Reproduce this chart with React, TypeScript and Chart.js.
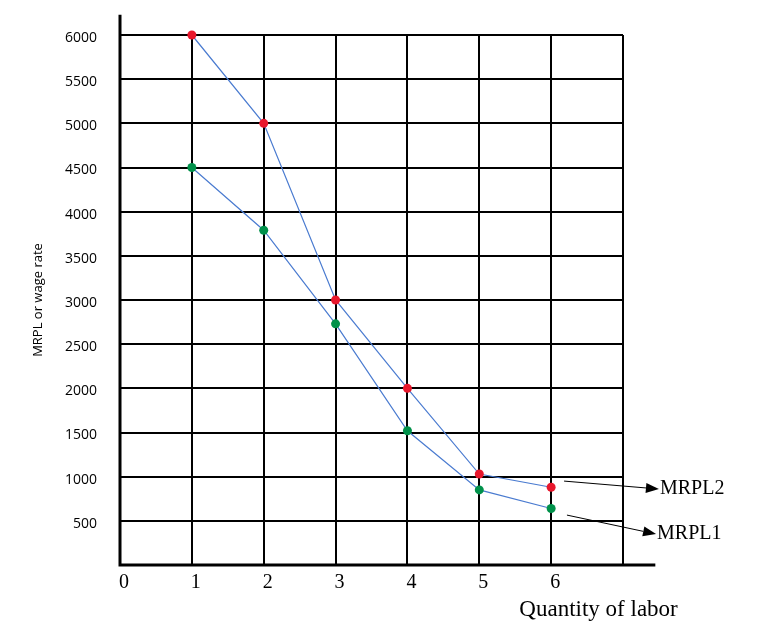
import React, { useEffect, useRef } from 'react';
import { Chart, registerables } from 'chart.js';

Chart.register(...registerables);

// ---- data ----
const quantities = [1, 2, 3, 4, 5, 6];
const mrpl2Values = [6000, 5000, 3000, 2000, 1030, 880];
const mrpl1Values = [4500, 3790, 2730, 1520, 850, 640];
const xTickLabels = ['0', '1', '2', '3', '4', '5', '6', ''];
const yTickStep = 500;
const seriesNames = ['MRPL2', 'MRPL1'];
const xTitle = 'Quantity of labor';
const yTitle = 'MRPL or wage rate';

// annotation anchors in data units (start of arrow, arrow tip)
const arrowStarts = [
  [6.18, 950],
  [6.22, 565],
];
const arrowTips = [
  [7.5, 860],
  [7.46, 350],
];

const SERIF = '"Liberation Serif", "Times New Roman", serif';
const SANS = '"Open Sans", "Liberation Sans", sans-serif';

const decorPlugin = {
  id: 'decor',
  afterDraw(chart: any) {
    const { ctx, chartArea, scales } = chart;
    const xs = scales.x;
    const ys = scales.y;
    ctx.save();
    // thick axes
    ctx.strokeStyle = '#000';
    ctx.lineWidth = 3;
    ctx.beginPath();
    ctx.moveTo(chartArea.left, ys.getPixelForValue(6230));
    ctx.lineTo(chartArea.left, chartArea.bottom);
    ctx.lineTo(xs.getPixelForValue(7.45), chartArea.bottom);
    ctx.stroke();

    // arrows + labels
    ctx.lineWidth = 1;
    ctx.fillStyle = '#000';
    seriesNames.forEach((name, i) => {
      const x1 = xs.getPixelForValue(arrowStarts[i][0]);
      const y1 = ys.getPixelForValue(arrowStarts[i][1]);
      const x2 = xs.getPixelForValue(arrowTips[i][0]);
      const y2 = ys.getPixelForValue(arrowTips[i][1]);
      const ang = Math.atan2(y2 - y1, x2 - x1);
      const hl = 13;
      const hw = 5;
      const bx = x2 - hl * Math.cos(ang);
      const by = y2 - hl * Math.sin(ang);
      ctx.beginPath();
      ctx.moveTo(x1, y1);
      ctx.lineTo(bx, by);
      ctx.stroke();
      ctx.beginPath();
      ctx.moveTo(x2, y2);
      ctx.lineTo(bx + hw * Math.sin(ang), by - hw * Math.cos(ang));
      ctx.lineTo(bx - hw * Math.sin(ang), by + hw * Math.cos(ang));
      ctx.closePath();
      ctx.fill();
      ctx.font = `20px ${SERIF}`;
      ctx.textAlign = 'left';
      ctx.textBaseline = 'middle';
      ctx.fillText(name, x2 + 1, y2 + 0);
    });

    // x title
    ctx.font = `23px ${SERIF}`;
    ctx.textAlign = 'center';
    ctx.textBaseline = 'middle';
    ctx.fillText(xTitle, xs.getPixelForValue(6.66), chartArea.bottom + 45);
    ctx.restore();
  },
};

export default function App() {
  const ref = useRef<HTMLCanvasElement | null>(null);

  useEffect(() => {
    if (!ref.current) return;
    const chart = new Chart(ref.current, {
      type: 'line',
      data: {
        datasets: [
          {
            label: seriesNames[0],
            data: quantities.map((q, i) => ({ x: q, y: mrpl2Values[i] })),
            borderColor: '#4a7bd0',
            borderWidth: 1.2,
            pointBackgroundColor: '#e8172c',
            pointBorderColor: '#e8172c',
            pointRadius: 4.5,
            pointBorderWidth: 0,
            tension: 0,
            clip: false,
          },
          {
            label: seriesNames[1],
            data: quantities.map((q, i) => ({ x: q, y: mrpl1Values[i] })),
            borderColor: '#4a7bd0',
            borderWidth: 1.2,
            pointBackgroundColor: '#00914a',
            pointBorderColor: '#00914a',
            pointRadius: 4.5,
            pointBorderWidth: 0,
            tension: 0,
            clip: false,
          },
        ],
      },
      options: {
        animation: false,
        responsive: false,
        events: [],
        layout: { padding: { left: 20, top: 35, right: 137, bottom: 0 } },
        plugins: {
          legend: { display: false },
          tooltip: { enabled: false },
        },
        scales: {
          x: {
            type: 'linear',
            min: 0,
            max: 7,
            afterFit: (s: any) => {
              s.height = 74;
            },
            border: { display: false },
            grid: { color: '#000', lineWidth: 2, drawTicks: false },
            ticks: {
              stepSize: 1,
              padding: 6,
              labelOffset: 4,
              color: '#000',
              font: { family: SERIF, size: 20 },
              callback: (v: any) => xTickLabels[Number(v)] ?? '',
            },
          },
          y: {
            type: 'linear',
            min: 0,
            max: 6000,
            afterFit: (s: any) => {
              s.width = 100;
            },
            border: { display: false },
            grid: { color: '#000', lineWidth: 2, drawTicks: false },
            title: {
              display: true,
              text: yTitle,
              color: '#000',
              font: { family: SANS, size: 13 },
              padding: { top: 10, bottom: 0 },
            },
            ticks: {
              stepSize: yTickStep,
              padding: 23,
              labelOffset: 3,
              color: '#000',
              font: { family: SANS, size: 14 },
              callback: (v: any) => (Number(v) === 0 ? '' : String(v)),
            },
          },
        },
      },
      plugins: [decorPlugin],
    });
    return () => chart.destroy();
  }, []);

  return (
    <div style={{ position: 'absolute', left: 0, top: 0, width: 760, height: 639, background: '#fff' }}>
      <canvas ref={ref} width={760} height={639} style={{ display: 'block' }} />
    </div>
  );
}
